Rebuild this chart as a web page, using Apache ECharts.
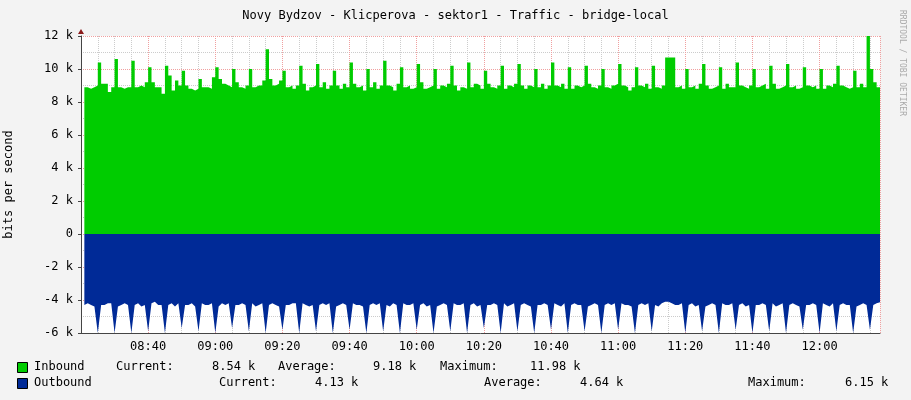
<!DOCTYPE html>
<html>
<head>
<meta charset="utf-8">
<script src="https://cdn.jsdelivr.net/npm/echarts@6/dist/echarts.min.js"></script>
<style>body{margin:0;background:#f3f3f3}#c{width:911px;height:400px}</style>
</head>
<body>
<div id="c"></div>
<script>
// samples: one per minute starting 08:21 (minutes since midnight)
var startMinute = 501;
// inbound traffic, k bits per second
var inbound = [
  8.9,8.8,8.9,9.0,10.4, 9.1,9.1,8.6,8.9,10.6, 8.9,8.8,8.9,8.9,10.5, 8.9,9.0,8.9,9.2,10.1,
  9.2,8.9,8.9,8.5,10.2, 9.6,8.7,9.3,9.0,9.9, 9.0,8.8,8.7,8.8,9.4, 8.9,8.9,8.8,9.5,10.1,
  9.4,9.1,9.0,8.9,10.0, 9.2,8.9,8.8,9.0,10.0, 8.9,9.0,9.0,9.3,11.2, 9.4,9.0,9.1,9.3,9.9,
  8.9,9.0,8.8,9.0,10.2, 9.1,8.7,8.9,9.0,10.3, 8.9,9.2,8.8,9.0,9.9, 9.0,8.8,9.1,8.9,10.4,
  9.1,8.9,9.0,8.7,10.0, 8.9,9.2,8.8,9.0,10.5, 9.0,8.9,8.7,9.1,10.1, 8.9,9.0,8.8,8.9,10.3,
  9.2,8.8,8.9,9.0,10.0, 8.8,9.0,8.9,9.1,10.2, 9.0,8.7,8.9,8.8,10.4, 8.9,9.1,9.0,8.8,9.9,
  9.1,8.9,8.8,9.0,10.2, 8.8,9.0,8.9,9.1,10.3, 9.0,8.8,9.0,8.9,10.0, 8.9,9.1,8.8,9.0,10.4,
  9.0,8.9,9.1,8.8,10.1, 8.8,9.0,8.9,9.0,10.2, 9.1,8.9,8.8,9.0,10.0, 8.9,8.8,9.0,9.1,10.3,
  9.0,8.9,8.7,8.9,10.1, 9.0,8.9,9.1,8.8,10.2, 8.9,8.8,9.0,10.7,10.7, 10.7,8.9,9.0,8.8,10.0,
  8.9,9.0,8.8,9.1,10.3, 9.0,8.8,8.9,9.0,10.1, 8.8,9.1,8.9,8.9,10.4, 9.0,8.9,8.8,9.0,10.0,
  8.9,9.0,9.1,8.8,10.2, 9.1,8.8,8.9,9.0,10.3, 8.9,9.0,8.8,8.9,10.1, 9.0,8.9,9.0,8.8,10.0,
  8.8,9.0,8.9,9.1,10.2, 9.0,8.9,8.8,8.9,9.9, 8.9,9.1,8.9,12.0,10.0, 9.2,8.9,8.54,8.54,8.54
];
// outbound traffic, k bits per second (drawn negative)
var outbound = [
  -4.3,-4.2,-4.3,-4.4,-6.0, -4.3,-4.3,-4.2,-4.2,-6.0, -4.4,-4.3,-4.2,-4.3,-6.0, -4.3,-4.2,-4.4,-4.3,-5.9,
  -4.2,-4.1,-4.3,-4.3,-6.0, -4.3,-4.2,-4.4,-4.2,-5.7, -4.3,-4.3,-4.2,-4.4,-5.9, -4.2,-4.3,-4.3,-4.2,-6.0,
  -4.4,-4.2,-4.3,-4.2,-5.7, -4.3,-4.3,-4.2,-4.3,-5.9, -4.2,-4.4,-4.3,-4.2,-6.0, -4.3,-4.2,-4.3,-4.4,-5.8,
  -4.3,-4.3,-4.2,-4.2,-6.0, -4.2,-4.3,-4.4,-4.3,-5.9, -4.3,-4.2,-4.3,-4.2,-6.0, -4.4,-4.3,-4.2,-4.3,-5.8,
  -4.2,-4.3,-4.3,-4.4,-6.0, -4.3,-4.2,-4.3,-4.2,-5.9, -4.3,-4.4,-4.2,-4.3,-6.0, -4.2,-4.3,-4.3,-4.2,-5.8,
  -4.3,-4.2,-4.4,-4.3,-6.0, -4.4,-4.3,-4.2,-4.3,-5.9, -4.2,-4.3,-4.3,-4.2,-6.0, -4.3,-4.2,-4.4,-4.3,-5.7,
  -4.3,-4.3,-4.2,-4.3,-6.0, -4.2,-4.4,-4.3,-4.2,-5.9, -4.3,-4.2,-4.3,-4.4,-6.0, -4.3,-4.3,-4.2,-4.3,-5.8,
  -4.2,-4.3,-4.4,-4.2,-6.0, -4.3,-4.2,-4.3,-4.3,-5.9, -4.4,-4.3,-4.2,-4.3,-6.0, -4.3,-4.2,-4.3,-4.2,-5.8,
  -4.2,-4.3,-4.3,-4.4,-6.0, -4.3,-4.2,-4.3,-4.2,-5.9, -4.3,-4.4,-4.2,-4.1,-4.1, -4.2,-4.3,-4.3,-4.2,-6.0,
  -4.3,-4.2,-4.4,-4.3,-5.9, -4.4,-4.3,-4.2,-4.3,-6.0, -4.2,-4.3,-4.3,-4.2,-5.8, -4.3,-4.2,-4.4,-4.3,-6.0,
  -4.3,-4.3,-4.2,-4.3,-5.9, -4.2,-4.4,-4.3,-4.2,-6.0, -4.3,-4.2,-4.3,-4.4,-5.8, -4.3,-4.3,-4.2,-4.3,-6.0,
  -4.2,-4.3,-4.4,-4.2,-5.9, -4.3,-4.2,-4.3,-4.3,-6.0, -4.4,-4.3,-4.2,-4.3,-5.8, -4.3,-4.2,-4.13,-4.13,-4.13
];

function toPairs(arr) {
  return arr.map(function (v, i) { return [startMinute + i, v * 1000]; });
}

var mono = 'DejaVu Sans Mono';
var chart = echarts.init(document.getElementById('c'));

function txt(x, y, s) {
  return { type: 'text', left: x, top: y, style: { text: s, font: '12px ' + mono, fill: '#000' } };
}

var option = {
  backgroundColor: '#f3f3f3',
  animation: false,
  title: {
    text: 'Novy Bydzov - Klicperova - sektor1 - Traffic - bridge-local',
    left: 'center', top: 5,
    textStyle: { fontFamily: mono, fontSize: 12, fontWeight: 'normal', color: '#000' }
  },
  grid: {
    left: 81, right: 31, top: 36, bottom: 67, containLabel: false, outerBoundsMode: 'none',
    show: true, backgroundColor: '#fff', borderWidth: 0
  },
  xAxis: {
    type: 'value', min: 500, max: 738, interval: 20,
    axisLine: { onZero: false, lineStyle: { color: '#444' } },
    axisTick: { show: false },
    axisLabel: {
      fontFamily: mono, fontSize: 12, color: '#000', margin: 8,
      formatter: function (v) {
        if (v === 500 || v === 738) return '';
        var h = Math.floor(v / 60), m = v % 60;
        return (h < 10 ? '0' : '') + h + ':' + (m < 10 ? '0' : '') + m;
      }
    },
    splitLine: { show: true, lineStyle: { color: '#f0a0a0', type: 'dotted' } },
    minorTick: { show: false, splitNumber: 4 },
    minorSplitLine: { show: true, lineStyle: { color: '#cccccc', type: 'dotted' } }
  },
  yAxis: {
    type: 'value', min: -6000, max: 12000, interval: 2000,
    name: 'bits per second', nameLocation: 'middle', nameGap: 66, nameRotate: 90,
    nameTextStyle: { fontFamily: mono, fontSize: 12, color: '#000' },
    axisLine: { show: true, lineStyle: { color: '#444' } },
    axisTick: { show: true, length: 3, lineStyle: { color: '#444' } },
    axisLabel: {
      fontFamily: mono, fontSize: 12, color: '#000',
      formatter: function (v) { return v === 0 ? '0' : (v / 1000) + ' k'; }
    },
    splitLine: { show: true, lineStyle: { color: '#f0a0a0', type: 'dotted' } },
    minorTick: { show: false, splitNumber: 2 },
    minorSplitLine: { show: true, lineStyle: { color: '#cccccc', type: 'dotted' } }
  },
  series: [
    {
      name: 'Inbound', type: 'line', step: 'end', showSymbol: false, z: 3,
      lineStyle: { width: 0 }, areaStyle: { color: '#00cc00', opacity: 1 },
      data: toPairs(inbound)
    },
    {
      name: 'Outbound', type: 'line', showSymbol: false, z: 3,
      lineStyle: { width: 0 }, areaStyle: { color: '#002a97', opacity: 1 },
      data: toPairs(outbound)
    }
  ],
  graphic: [
    { type: 'rect', left: 17, top: 362, shape: { width: 10, height: 10 }, style: { fill: '#00cc00', stroke: '#000' } },
    { type: 'rect', left: 17, top: 378, shape: { width: 10, height: 10 }, style: { fill: '#002a97', stroke: '#000' } },
    txt(34, 361, 'Inbound'), txt(116, 361, 'Current:'), txt(212, 361, '8.54 k'),
    txt(278, 361, 'Average:'), txt(373, 361, '9.18 k'), txt(440, 361, 'Maximum:'), txt(530, 361, '11.98 k'),
    txt(34, 377, 'Outbound'), txt(219, 377, 'Current:'), txt(315, 377, '4.13 k'),
    txt(484, 377, 'Average:'), txt(580, 377, '4.64 k'), txt(748, 377, 'Maximum:'), txt(845, 377, '6.15 k'),
    { type: 'text', left: 898, top: 10, rotation: -Math.PI / 2,
      style: { text: 'RRDTOOL / TOBI OETIKER', font: '8px ' + mono, fill: '#aaaaaa' } },
    { type: 'polygon', shape: { points: [[78, 34], [84, 34], [81, 29]] }, style: { fill: '#8b1a1a' } }
  ]
};
chart.setOption(option);
</script>
</body>
</html>
